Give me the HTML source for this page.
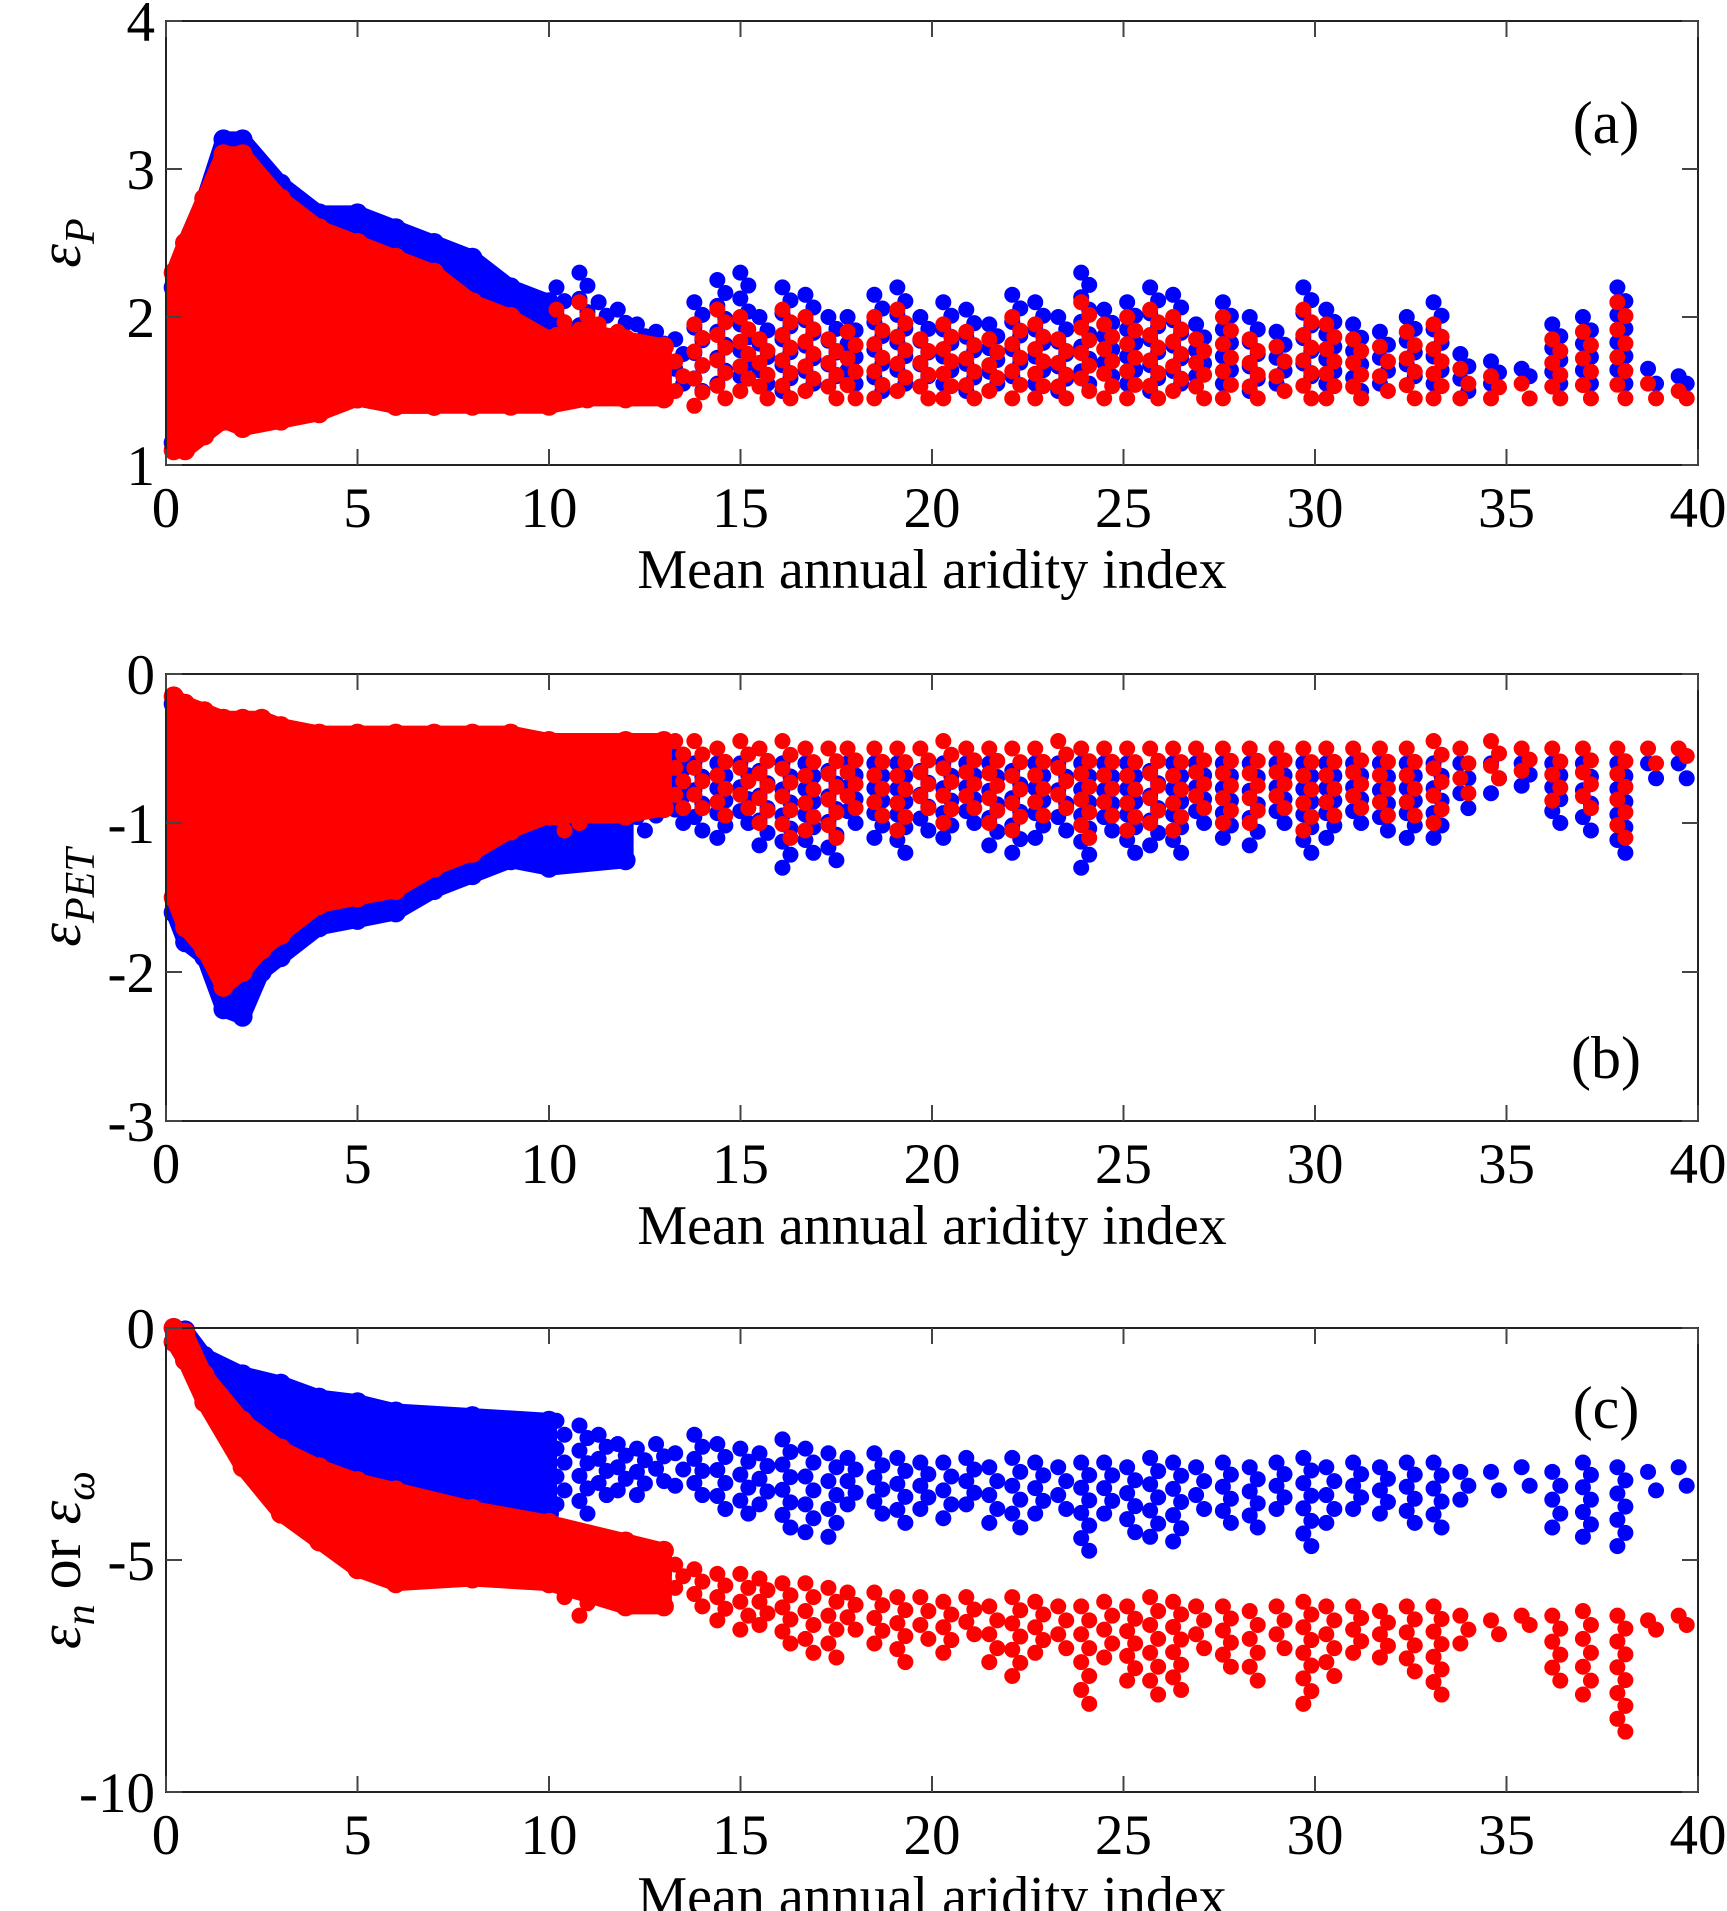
<!DOCTYPE html>
<html><head><meta charset="utf-8"><style>
html,body{margin:0;padding:0;background:#fff}
svg{display:block;font-family:"Liberation Serif",serif}
</style></head><body>
<svg id="chart" width="1727" height="1911" viewBox="0 0 1727 1911" xmlns="http://www.w3.org/2000/svg"></svg>
<script>
// ---- data ----
const xTicks = [0,5,10,15,20,25,30,35,40];
const yTicksA = [1,2,3,4];
const yTicksB = [-3,-2,-1,0];
const yTicksC = [-10,-5,0];
// dense-region envelopes: x, low, high
const aBlueBandX  = [0.2,0.5,1,1.5,2,3,4,5,6,7,8,9,10];
const aBlueBandLo = [1.15,1.2,1.25,1.3,1.35,1.35,1.4,1.45,1.4,1.4,1.45,1.45,1.5];
const aBlueBandHi = [2.2,2.5,2.8,3.2,3.2,2.9,2.7,2.7,2.6,2.5,2.4,2.2,2.1];
const aRedBandX   = [0.2,0.5,1,1.5,2,3,4,5,6,7,8,9,10,11,12,13];
const aRedBandLo  = [1.1,1.1,1.2,1.3,1.25,1.3,1.35,1.45,1.4,1.4,1.4,1.4,1.4,1.45,1.45,1.45];
const aRedBandHi  = [2.3,2.5,2.8,3.1,3.1,2.8,2.6,2.5,2.4,2.3,2.1,2.0,1.85,1.9,1.85,1.8];
const bBlueBandX  = [0.2,0.5,1,1.5,2,2.5,3,4,5,6,7,8,9,10,12];
const bBlueBandLo = [-1.6,-1.8,-1.9,-2.25,-2.3,-2.0,-1.9,-1.7,-1.65,-1.6,-1.45,-1.35,-1.25,-1.3,-1.25];
const bBlueBandHi = [-0.2,-0.25,-0.3,-0.35,-0.35,-0.35,-0.4,-0.45,-0.45,-0.45,-0.45,-0.45,-0.5,-0.5,-0.55];
const bRedBandX   = [0.2,0.5,1,1.5,2,2.5,3,4,5,6,7,8,9,10,12,13];
const bRedBandLo  = [-1.5,-1.7,-1.85,-2.1,-2.0,-1.85,-1.75,-1.55,-1.5,-1.45,-1.3,-1.2,-1.05,-0.95,-0.95,-0.9];
const bRedBandHi  = [-0.15,-0.2,-0.25,-0.3,-0.3,-0.3,-0.35,-0.4,-0.4,-0.4,-0.4,-0.4,-0.4,-0.45,-0.45,-0.45];
const cBlueBandX  = [0.2,0.5,1,2,3,4,5,6,8,10];
const cBlueBandLo = [-0.3,-0.7,-1.5,-2.4,-3.0,-3.4,-3.6,-3.8,-4.0,-4.0];
const cBlueBandHi = [0,-0.05,-0.6,-1.0,-1.2,-1.5,-1.6,-1.8,-1.9,-2.0];
const cRedBandX   = [0.2,0.5,1,2,3,4,5,6,8,10,12,13];
const cRedBandLo  = [-0.3,-0.7,-1.6,-3.0,-4.0,-4.6,-5.2,-5.5,-5.4,-5.5,-6.0,-6.0];
const cRedBandHi  = [0,-0.1,-1.0,-2.0,-2.6,-3.0,-3.3,-3.5,-3.9,-4.2,-4.6,-4.8];
// sparse basins (x) with per-basin low/high
const basinX = [10.3,10.9,11.4,11.9,12.4,12.9,13.4,13.9,14.5,15.1,15.6,16.2,16.8,17.4,17.9,18.6,19.2,19.8,20.4,21.0,21.6,22.2,22.8,23.4,24.0,24.6,25.2,25.8,26.4,27.0,27.7,28.4,29.1,29.8,30.4,31.1,31.8,32.5,33.2,33.9,34.7,35.5,36.3,37.1,38.0,38.8,39.6];
const aBlueLo = [1.55,1.5,1.55,1.6,1.55,1.5,1.55,1.5,1.55,1.6,1.55,1.5,1.55,1.6,1.55,1.5,1.55,1.6,1.55,1.5,1.55,1.6,1.55,1.5,1.55,1.6,1.55,1.5,1.55,1.6,1.55,1.5,1.55,1.6,1.55,1.5,1.55,1.6,1.55,1.5,1.55,1.6,1.55,1.55,1.55,1.55,1.55];
const aBlueHi = [2.2,2.3,2.1,2.05,1.95,1.9,1.85,2.1,2.25,2.3,2.0,2.2,2.15,2.0,2.0,2.15,2.2,2.0,2.1,2.05,1.95,2.15,2.1,2.0,2.3,2.05,2.1,2.2,2.15,1.95,2.1,2.0,1.9,2.2,2.05,1.95,1.9,2.0,2.1,1.75,1.7,1.65,1.95,2.0,2.2,1.65,1.6];
const aRedLo  = [1.45,1.45,1.5,1.45,1.45,1.45,1.5,1.4,1.45,1.5,1.45,1.45,1.5,1.45,1.45,1.45,1.5,1.45,1.45,1.45,1.5,1.45,1.45,1.45,1.5,1.45,1.45,1.45,1.5,1.45,1.45,1.45,1.5,1.45,1.45,1.45,1.5,1.45,1.45,1.45,1.45,1.45,1.45,1.45,1.45,1.45,1.45];
const aRedHi  = [2.05,2.1,1.95,1.9,1.8,1.75,1.7,1.95,2.05,2.0,1.85,2.05,2.0,1.85,1.9,2.0,2.05,1.85,1.95,1.9,1.85,2.0,1.95,1.85,2.1,1.95,2.0,2.05,2.0,1.85,2.0,1.85,1.8,2.05,1.95,1.85,1.8,1.9,1.95,1.65,1.6,1.55,1.85,1.9,2.1,1.55,1.5];
const bBlueLo = [-1.25,-1.2,-1.1,-1.0,-1.05,-0.95,-1.0,-1.05,-1.1,-1.0,-1.15,-1.3,-1.2,-1.25,-1.0,-1.1,-1.2,-1.05,-1.1,-1.0,-1.15,-1.2,-1.1,-1.05,-1.3,-1.05,-1.2,-1.15,-1.2,-1.0,-1.1,-1.15,-1.0,-1.2,-1.1,-1.0,-1.05,-1.1,-1.1,-0.9,-0.8,-0.75,-1.0,-1.05,-1.2,-0.7,-0.7];
const bBlueHi = [-0.55,-0.55,-0.6,-0.6,-0.6,-0.6,-0.55,-0.6,-0.6,-0.6,-0.65,-0.6,-0.6,-0.65,-0.6,-0.6,-0.6,-0.65,-0.6,-0.6,-0.6,-0.65,-0.6,-0.6,-0.6,-0.6,-0.6,-0.65,-0.6,-0.6,-0.6,-0.6,-0.6,-0.6,-0.6,-0.6,-0.6,-0.6,-0.6,-0.6,-0.6,-0.6,-0.6,-0.6,-0.6,-0.6,-0.6];
const bRedLo  = [-1.05,-1.0,-0.95,-0.9,-0.9,-0.85,-0.9,-0.9,-0.95,-0.9,-1.0,-1.1,-1.05,-1.1,-0.9,-0.95,-1.05,-0.9,-1.0,-0.9,-1.0,-1.05,-0.95,-0.9,-1.1,-0.95,-1.05,-1.0,-1.05,-0.9,-1.0,-1.0,-0.9,-1.05,-0.95,-0.9,-0.95,-0.95,-1.0,-0.8,-0.7,-0.65,-0.85,-0.9,-1.1,-0.6,-0.55];
const bRedHi  = [-0.45,-0.45,-0.5,-0.5,-0.45,-0.5,-0.45,-0.45,-0.5,-0.45,-0.5,-0.45,-0.5,-0.5,-0.5,-0.5,-0.5,-0.5,-0.45,-0.5,-0.5,-0.5,-0.5,-0.45,-0.5,-0.5,-0.5,-0.5,-0.5,-0.5,-0.5,-0.5,-0.5,-0.5,-0.5,-0.5,-0.5,-0.5,-0.45,-0.5,-0.45,-0.5,-0.5,-0.5,-0.5,-0.5,-0.5];
const cBlueLo = [-3.8,-4.0,-3.6,-3.5,-3.6,-3.3,-3.4,-3.6,-3.9,-4.0,-3.8,-4.3,-4.4,-4.5,-3.8,-4.0,-4.2,-3.9,-4.1,-3.8,-4.2,-4.3,-4.0,-3.9,-4.8,-4.0,-4.4,-4.5,-4.6,-3.9,-4.2,-4.3,-3.9,-4.7,-4.2,-3.9,-4.0,-4.2,-4.3,-3.7,-3.5,-3.4,-4.3,-4.5,-4.7,-3.5,-3.4];
const cBlueHi = [-2.0,-2.1,-2.3,-2.5,-2.6,-2.5,-2.7,-2.3,-2.5,-2.6,-2.7,-2.4,-2.6,-2.7,-2.8,-2.7,-2.8,-2.9,-2.9,-2.8,-3.0,-2.8,-2.9,-3.0,-2.9,-2.9,-3.0,-2.8,-2.9,-3.0,-2.9,-3.0,-2.9,-2.8,-3.0,-2.9,-3.0,-2.9,-2.9,-3.1,-3.1,-3.0,-3.1,-2.9,-3.0,-3.1,-3.0];
const cRedLo  = [-5.8,-6.2,-5.6,-5.5,-5.8,-5.3,-5.6,-6.0,-6.3,-6.5,-6.4,-6.8,-7.0,-7.1,-6.5,-6.8,-7.2,-6.7,-7.0,-6.6,-7.2,-7.5,-7.0,-6.9,-8.1,-7.1,-7.6,-7.9,-7.8,-6.9,-7.3,-7.6,-6.9,-8.1,-7.5,-7.0,-7.1,-7.4,-7.9,-6.8,-6.6,-6.4,-7.6,-7.9,-8.7,-6.5,-6.4];
const cRedHi  = [-4.5,-4.6,-4.8,-5.0,-5.0,-4.9,-5.1,-5.2,-5.3,-5.3,-5.4,-5.5,-5.5,-5.6,-5.7,-5.7,-5.8,-5.8,-5.9,-5.8,-6.0,-5.8,-5.9,-6.0,-6.0,-5.9,-6.0,-5.8,-5.9,-6.0,-6.0,-6.1,-6.0,-5.9,-6.0,-6.0,-6.1,-6.0,-6.0,-6.2,-6.3,-6.2,-6.2,-6.1,-6.2,-6.3,-6.2];

// ---- layout ----
const NS = "http://www.w3.org/2000/svg";
const svg = document.getElementById('chart');
const X0 = 166, X1 = 1698;
const panels = [
  {id:'a', top:21, bot:465, min:1, max:4, ticks:yTicksA, letter:'(a)', letterY:143,
   bands:[[aBlueBandX,aBlueBandLo,aBlueBandHi,'#0000ff'],[aRedBandX,aRedBandLo,aRedBandHi,'#ff0000']],
   cols:[[aBlueLo,aBlueHi,'#0000ff'],[aRedLo,aRedHi,'#ff0000']]},
  {id:'b', top:674, bot:1121, min:-3, max:0, ticks:yTicksB, letter:'(b)', letterY:1078,
   bands:[[bBlueBandX,bBlueBandLo,bBlueBandHi,'#0000ff'],[bRedBandX,bRedBandLo,bRedBandHi,'#ff0000']],
   cols:[[bBlueLo,bBlueHi,'#0000ff'],[bRedLo,bRedHi,'#ff0000']]},
  {id:'c', top:1328, bot:1792, min:-10, max:0, ticks:yTicksC, letter:'(c)', letterY:1428,
   bands:[[cBlueBandX,cBlueBandLo,cBlueBandHi,'#0000ff'],[cRedBandX,cRedBandLo,cRedBandHi,'#ff0000']],
   cols:[[cBlueLo,cBlueHi,'#0000ff'],[cRedLo,cRedHi,'#ff0000']]}
];
function xs(v){return X0 + (v/40)*(X1-X0);}
function mk(tag, attrs, parent){const e=document.createElementNS(NS,tag);for(const k in attrs)e.setAttribute(k,attrs[k]);(parent||svg).appendChild(e);return e;}

panels.forEach(p=>{
  const ys = v => p.bot - (v-p.min)/(p.max-p.min)*(p.bot-p.top);
  const g = mk('g',{});
  
  
  for(let s=0;s<2;s++){
    const [bx,lo,hi,col] = p.bands[s];
    let d = 'M';
    for(let i=0;i<bx.length;i++) d += xs(bx[i])+','+ys(hi[i])+' L';
    for(let i=bx.length-1;i>=0;i--) d += xs(bx[i])+','+ys(lo[i])+(i>0?' L':' Z');
    const band = mk('path',{d:d, fill:col, stroke:col, 'stroke-width':16, 'stroke-linejoin':'round'}, g);
    
    
    for(let i=0;i<bx.length;i++){
      const e1 = mk('circle',{cx:xs(bx[i]), cy:ys(hi[i]), r:10, fill:col}, g);
      
      
      const e2 = mk('circle',{cx:xs(bx[i]), cy:ys(lo[i]), r:10, fill:col}, g);
      
      
    }
    const [clo,chi,ccol] = p.cols[s];
    for(let i=0;i<basinX.length;i++){
      const cx = xs(basinX[i]);
      const y1 = ys(chi[i]), y2 = ys(clo[i]);
      const n = Math.max(1, Math.round((y2-y1)/13));
      for(let k=0;k<=n;k++){
        const c = mk('circle',{cx:cx + ((k%2)?4:-4), cy:y1+(y2-y1)*k/n, r:8, fill:ccol}, g);
        
        
      }
    }
  }
  const fr = mk('rect',{x:X0,y:p.top,width:X1-X0,height:p.bot-p.top,fill:'none',stroke:'#222','stroke-width':2}, g);
  
  
  xTicks.forEach(t=>{
    const x = xs(t);
    mk('line',{x1:x,y1:p.bot,x2:x,y2:p.bot-16,stroke:'#444','stroke-width':2},g);
    mk('line',{x1:x,y1:p.top,x2:x,y2:p.top+16,stroke:'#444','stroke-width':2},g);
    const tl = mk('text',{x:x,y:p.bot+62,'font-size':57,'text-anchor':'middle',fill:'#000'},g);
    tl.textContent = t;
    
    
  });
  p.ticks.forEach(t=>{
    const y = ys(t);
    mk('line',{x1:X0,y1:y,x2:X0+16,y2:y,stroke:'#444','stroke-width':2},g);
    mk('line',{x1:X1,y1:y,x2:X1-16,y2:y,stroke:'#444','stroke-width':2},g);
    const tl = mk('text',{x:155,y:y+20,'font-size':57,'text-anchor':'end',fill:'#000'},g);
    tl.textContent = t;
    
    
  });
  const xt = mk('text',{x:932,y:p.bot+123,'font-size':56,'text-anchor':'middle',fill:'#000'},g);
  xt.textContent = 'Mean annual aridity index';
  
  
  const lt = mk('text',{x:1606,y:p.letterY,'font-size':60,'text-anchor':'middle',fill:'#000'},g);
  lt.textContent = p.letter;
  
  
  const cy = (p.top+p.bot)/2;
  const yt = mk('text',{transform:'translate(80,'+cy+') rotate(-90)','font-size':60,'text-anchor':'middle',fill:'#000','font-style':'italic'},g);
  
  
  if(p.id==='a'){
    yt.innerHTML = 'ε<tspan font-size="42" dy="14">P</tspan>';
  } else if(p.id==='b'){
    yt.innerHTML = 'ε<tspan font-size="42" dy="14">PET</tspan>';
  } else {
    yt.innerHTML = 'ε<tspan font-size="42" dy="14">n</tspan><tspan dy="-14" font-style="normal"> or </tspan>ε<tspan font-size="42" dy="14">ω</tspan>';
  }
});
</script>
</body></html>
